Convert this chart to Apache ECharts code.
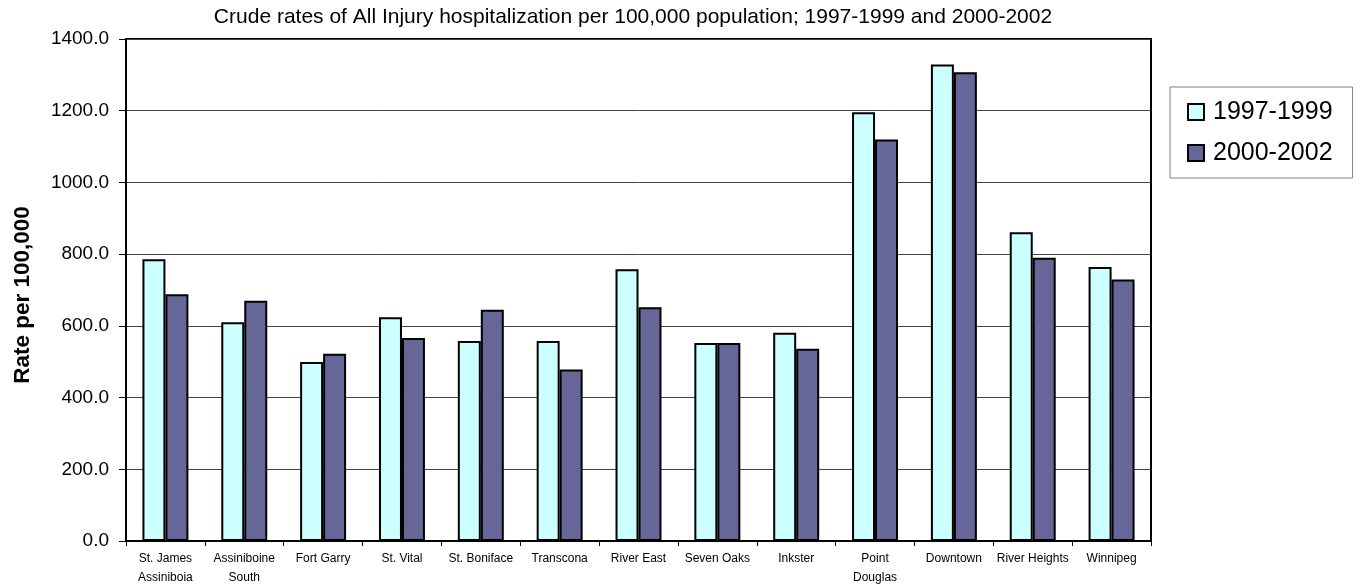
<!DOCTYPE html>
<html>
<head>
<meta charset="utf-8">
<script src="https://cdn.jsdelivr.net/npm/echarts@6/dist/echarts.min.js"></script>
<style>
html,body{margin:0;padding:0;background:#fff;}
#chart{width:1361px;height:584px;}
</style>
</head>
<body>
<div id="chart"></div>
<script>
const categories = ["St. James\nAssiniboia","Assiniboine\nSouth","Fort Garry","St. Vital","St. Boniface","Transcona","River East","Seven Oaks","Inkster","Point\nDouglas","Downtown","River Heights","Winnipeg"];
const series1997 = [786, 610, 499, 624, 558, 558, 758, 552, 581, 1196, 1329, 861, 764];
const series2000 = [688, 670, 522, 566, 645, 478, 652, 552, 536, 1120, 1307, 790, 729];
const seriesNames = ["1997-1999", "2000-2002"];
const yTicks = {min: 0, max: 1400, interval: 200};
const titleText = "Crude rates of All Injury hospitalization per 100,000 population; 1997-1999 and 2000-2002";
const yAxisTitle = "Rate per 100,000";

const FONT = "Liberation Sans, Arial, sans-serif";
const chart = echarts.init(document.getElementById('chart'));
chart.setOption({
  animation: false,
  backgroundColor: '#fff',
  title: {
    text: titleText,
    left: 628, top: 2, textAlign: 'center',
    textStyle: {fontFamily: FONT, fontSize: 21, fontWeight: 'normal', color: '#000'}
  },
  legend: {
    orient: 'vertical',
    left: 1170, top: 87,
    padding: [11, 20, 11, 17],
    borderColor: '#808080', borderWidth: 1,
    itemWidth: 16, itemHeight: 16, itemGap: 13,
    icon: 'rect',
    textStyle: {fontFamily: FONT, fontSize: 25, color: '#000', padding: [0, 0, 0, 4], lineHeight: 28},
    data: seriesNames
  },
  grid: {
    left: 126, right: 210, top: 39, bottom: 43,
    outerBoundsMode: 'none',
    show: true, borderColor: '#000', borderWidth: 2, backgroundColor: '#fff'
  },
  xAxis: {
    type: 'category',
    data: categories,
    axisLine: {show: true, lineStyle: {color: '#000', width: 2}},
    axisTick: {show: true, interval: 0, length: 5, lineStyle: {color: '#000', width: 1}},
    axisLabel: {interval: 0, fontFamily: FONT, fontSize: 12, color: '#000', lineHeight: 19, margin: 8}
  },
  yAxis: {
    type: 'value',
    min: yTicks.min, max: yTicks.max, interval: yTicks.interval,
    name: yAxisTitle,
    nameLocation: 'middle', nameRotate: 90, nameGap: 92,
    nameTextStyle: {fontFamily: FONT, fontSize: 22.5, fontWeight: 'bold', color: '#000', padding: [0, 10, 0, 0]},
    axisLine: {show: true, lineStyle: {color: '#000', width: 2}},
    axisTick: {show: true, length: 7, lineStyle: {color: '#000', width: 1}},
    axisLabel: {fontFamily: FONT, fontSize: 19, color: '#000', margin: 17, formatter: v => v.toFixed(1)},
    splitLine: {show: true, lineStyle: {color: '#444', width: 1}}
  },
  series: [
    {
      name: seriesNames[0], type: 'bar', data: series1997,
      barCategoryGap: '41.7%', barGap: '0%',
      itemStyle: {color: '#CCFFFF', borderColor: '#000', borderWidth: 2}
    },
    {
      name: seriesNames[1], type: 'bar', data: series2000,
      barCategoryGap: '41.7%', barGap: '0%',
      itemStyle: {color: '#666699', borderColor: '#000', borderWidth: 2}
    }
  ]
});
</script>
</body>
</html>
